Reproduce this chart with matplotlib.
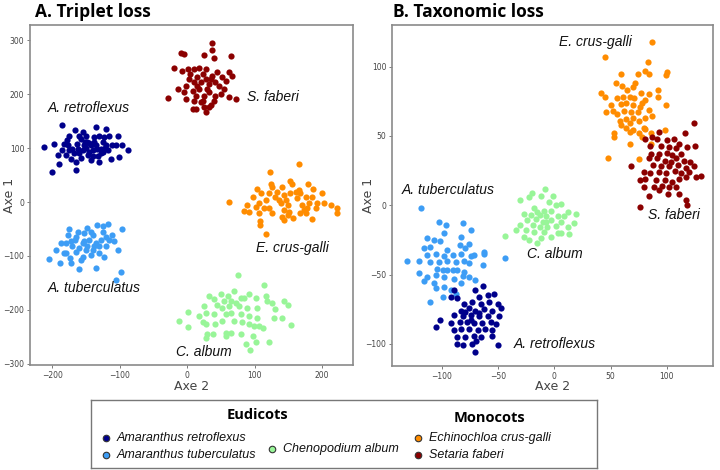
import matplotlib
matplotlib.use("Agg")
import matplotlib.pyplot as plt

# colours used in both panels
c_retro = "#00008b"
c_tuber = "#3d9df5"
c_album = "#98f598"
c_crus = "#ff8c00"
c_faberi = "#8b0000"

# ---------- A. Triplet loss ----------
a_retro_x = [-212, -197, -200, -185, -190, -180, -182, -175, -170, -167, -165, -165, -160, -158, -155, -153,
             -150, -145, -143, -138, -135, -133, -130, -128, -125, -120, -118, -116, -113, -111, -103, -101,
             -96, -88, -175, -185, -192, -177, -172, -163, -155, -148, -140, -128, -123, -130, -143, -160,
             -120, -106, -150, -145, -140, -135, -158, -168, -178, -125, -132, -147, -152, -138, -162, -122]
a_retro_y = [102, 108, 56, 142, 71, 87, 108, 123, 99, 133, 74, 59, 90, 117, 130, 105,
             123, 93, 77, 111, 139, 99, 123, 90, 111, 136, 96, 123, 80, 105, 123, 84,
             105, 96, 96, 96, 87, 105, 80, 108, 96, 111, 96, 99, 120, 74, 105, 123,
             105, 105, 100, 110, 85, 105, 82, 90, 115, 92, 85, 88, 112, 120, 99, 100]

a_faberi_x = [37, -9, -4, 37, 25, 40, 65, -19, -7, 1, 10, 18, 28, 45, 62, 67, -14, -2, 3, 10, 15, 20, 23,
              28, 32, 37, 42, 47, 52, 55, -4, 8, 13, 18, 25, 32, 42, 50, 62, 72, -29, 10, 13, 8, 25, 32,
              35, 28, -2, 23, 15, 5, 40, 57, 20, 30, 35]
a_faberi_y = [295, 277, 274, 282, 272, 266, 270, 249, 243, 246, 246, 249, 246, 240, 241, 234, 209, 215, 228,
              222, 231, 222, 237, 228, 219, 234, 222, 215, 231, 209, 203, 206, 197, 209, 197, 203, 197, 200,
              194, 191, 193, 188, 172, 172, 176, 176, 179, 166, 191, 188, 215, 237, 188, 225, 185, 209, 228]

a_crus_x = [62, 166, 123, 104, 97, 125, 126, 141, 153, 156, 180, 186, 200, 122, 109, 117, 107, 102, 89, 84,
            92, 107, 114, 121, 131, 136, 139, 144, 146, 149, 144, 141, 144, 149, 151, 157, 161, 163, 166,
            171, 173, 176, 178, 181, 185, 191, 193, 203, 214, 223, 223, 185, 108, 108, 168, 153, 134, 176,
            126, 168, 117]
a_crus_y = [0, 70, 56, 25, 10, 34, 28, 27, 39, 34, 34, 25, 16, 16, 16, 4, -2, -9, -5, -17,
            -18, -21, -12, -12, 10, 4, -2, 13, 4, -5, -15, -27, -33, -24, -18, -30, 19, 7, 22,
            -5, -15, -21, -12, -2, 10, -12, -2, -2, -5, -12, -21, -31, -36, -42, 16, 16, 19, 10,
            -21, -21, -60]

a_tuber_x = [-205, -194, -189, -182, -180, -177, -175, -174, -172, -170, -167, -165, -162, -160, -157, -155,
             -153, -150, -148, -145, -143, -140, -138, -135, -134, -130, -128, -125, -123, -120, -117, -116,
             -111, -106, -103, -98, -96, -125, -180, -187, -160, -153, -148, -135, -155, -140, -165, -172,
             -130, -120, -108, -143]
a_tuber_y = [-105, -88, -113, -95, -76, -61, -50, -104, -113, -82, -70, -92, -55, -125, -107, -76,
             -58, -88, -48, -70, -98, -61, -82, -122, -42, -95, -70, -55, -101, -82, -41, -70,
             -61, -144, -88, -130, -50, -45, -95, -76, -85, -73, -82, -76, -101, -88, -64, -73,
             -82, -64, -73, -55]

a_album_x = [76, 114, 69, 33, 50, 60, 80, 84, 92, 102, 117, 40, 55, 65, 72, 119, 25, 45, 52, 62, 77, 89,
             104, 126, 1, 18, 28, 40, 57, 65, 80, 92, 104, 129, -12, 1, 23, 28, 42, 52, 70, 82, 92, 99,
             107, 112, 30, 39, 57, 65, 80, 97, 28, 57, 87, 102, 93, 121, 154, 150, 143, 140, 130]
a_album_y = [-136, -153, -164, -174, -171, -174, -177, -177, -171, -177, -174, -180, -184, -184, -187, -184,
             -193, -190, -196, -193, -193, -196, -196, -187, -203, -211, -205, -208, -208, -205, -208, -211,
             -214, -214, -220, -231, -223, -226, -226, -220, -220, -223, -226, -230, -230, -233, -245, -245,
             -242, -242, -245, -248, -252, -248, -263, -260, -274, -260, -228, -190, -183, -215, -198]

# ---------- B. Taxonomic loss ----------
b_crus_x = [87, 45, 83, 81, 84, 100, 99, 59, 74, 55, 60, 70, 72, 92, 42, 45, 65, 77, 84, 56, 61, 67, 71,
            81, 92, 50, 59, 64, 70, 76, 78, 99, 46, 52, 56, 62, 68, 74, 84, 58, 64, 70, 75, 81, 87, 59,
            64, 67, 80, 98, 53, 67, 70, 75, 78, 81, 53, 67, 86, 48, 75, 86]
b_crus_y = [118, 107, 103, 97, 95, 96, 94, 95, 95, 88, 86, 85, 88, 83, 81, 78, 83, 81, 80, 77, 78, 78, 77,
            76, 78, 72, 73, 74, 72, 71, 74, 72, 67, 68, 66, 68, 67, 67, 69, 61, 62, 63, 61, 63, 64, 58,
            56, 59, 56, 54, 52, 53, 54, 52, 49, 55, 49, 44, 44, 34, 33, 52]

b_faberi_x = [124, 116, 93, 81, 87, 91, 100, 106, 111, 85, 95, 102, 108, 118, 125, 86, 93, 100, 105, 113,
              84, 91, 98, 104, 108, 115, 121, 68, 88, 95, 102, 110, 117, 124, 80, 85, 93, 99, 107, 113,
              120, 130, 76, 81, 90, 98, 105, 111, 117, 126, 80, 89, 96, 102, 108, 93, 101, 84, 111, 117,
              76, 118]
b_faberi_y = [59, 52, 53, 48, 49, 48, 47, 48, 44, 43, 43, 42, 41, 42, 43, 37, 37, 38, 36, 37,
              34, 34, 32, 31, 34, 32, 31, 28, 29, 28, 28, 29, 27, 28, 24, 23, 24, 23, 25, 23,
              24, 21, 18, 19, 18, 18, 17, 19, 20, 20, 13, 13, 14, 13, 13, 11, 8, 7, 8, 4,
              -1, 0]

b_tuber_x = [-118, -131, -44, -102, -81, -96, -98, -83, -74, -113, -107, -101, -76, -84, -116, -110,
             -95, -79, -62, -62, -113, -105, -98, -90, -83, -74, -71, -120, -110, -102, -95, -87, -80,
             -76, -63, -104, -99, -95, -90, -86, -80, -120, -113, -105, -98, -89, -81, -76, -116, -107,
             -98, -83, -105, -92, -99, -110, -87, -70]
b_tuber_y = [-2, -40, -38, -12, -13, -14, -20, -23, -18, -24, -25, -26, -28, -29, -31, -30,
             -32, -31, -34, -35, -36, -35, -37, -36, -35, -37, -36, -40, -41, -41, -40, -41, -40,
             -42, -43, -46, -47, -47, -47, -47, -48, -49, -52, -50, -52, -53, -51, -52, -55, -56,
             -59, -56, -60, -61, -66, -70, -64, -54]

b_retro_x = [-63, -89, -70, -92, -86, -67, -59, -53, -80, -73, -65, -58, -50, -47, -83, -76, -70, -62,
             -55, -89, -81, -74, -67, -59, -49, -101, -92, -84, -77, -71, -64, -56, -52, -105, -89, -83,
             -76, -68, -61, -55, -86, -79, -71, -65, -55, -81, -73, -69, -50, -70, -86, -74, -67, -79]
b_retro_y = [-58, -61, -61, -66, -67, -66, -65, -64, -71, -70, -71, -70, -71, -74, -76, -74, -76, -75,
             -76, -79, -80, -79, -80, -80, -80, -83, -85, -84, -84, -85, -85, -84, -86, -88, -90, -89,
             -89, -90, -89, -90, -95, -95, -94, -95, -94, -101, -100, -98, -101, -106, -100, -83, -78, -77]

b_album_x = [-22, -12, -1, -30, -5, 2, 6, -18, -9, -3, 12, 19, -27, -21, -13, -7, 3, 9, -24, -16, -10,
             -3, 6, 18, -30, -19, -13, -6, 2, 12, -44, -34, -25, -18, -9, 3, 13, -27, -22, -15, -12, -3,
             6, -7, -15, -8, -20]
b_album_y = [6, 7, 7, 4, 2, 0, 1, -2, -4, -4, -5, -6, -6, -7, -7, -8, -8, -8, -11, -10, -12,
             -11, -12, -13, -14, -14, -16, -16, -15, -16, -22, -18, -18, -19, -19, -20, -21, -23, -25, -27,
             -24, -23, -20, -12, -5, 12, 9]

species = ["Amaranthus retroflexus", "Amaranthus tuberculatus", "Chenopodium album",
           "Echinochloa crus-galli", "Setaria faberi"]

fig = plt.figure(figsize=(7.2, 4.7), dpi=100)
axA = fig.add_axes([30 / 720, 1 - 365 / 470, 323 / 720, 340 / 470])
axB = fig.add_axes([392 / 720, 1 - 366 / 470, 321 / 720, 341 / 470])

ms = 20
axA.scatter(a_retro_x, a_retro_y, s=ms, color=c_retro, lw=0)
axA.scatter(a_faberi_x, a_faberi_y, s=ms, color=c_faberi, lw=0)
axA.scatter(a_crus_x, a_crus_y, s=ms, color=c_crus, lw=0)
axA.scatter(a_tuber_x, a_tuber_y, s=ms, color=c_tuber, lw=0)
axA.scatter(a_album_x, a_album_y, s=ms, color=c_album, lw=0)

axB.scatter(b_crus_x, b_crus_y, s=ms, color=c_crus, lw=0)
axB.scatter(b_faberi_x, b_faberi_y, s=ms, color=c_faberi, lw=0)
axB.scatter(b_tuber_x, b_tuber_y, s=ms, color=c_tuber, lw=0)
axB.scatter(b_retro_x, b_retro_y, s=ms, color=c_retro, lw=0)
axB.scatter(b_album_x, b_album_y, s=ms, color=c_album, lw=0)

axA.set_xlim(-233, 246)
axA.set_ylim(-302, 328)
axA.set_xticks([-200, -100, 0, 100, 200])
axA.set_yticks([-300, -200, -100, 0, 100, 200, 300])
axB.set_xlim(-144, 141)
axB.set_ylim(-116, 130)
axB.set_xticks([-100, -50, 0, 50, 100])
axB.set_yticks([-100, -50, 0, 50, 100])

lab = dict(fontsize=10, style="italic", family="Liberation Sans", color="#111111", va="center")
axA.text(-207, 175, "A. retroflexus", **lab)
axA.text(89, 195, "S. faberi", **lab)
axA.text(102, -85, "E. crus-galli", **lab)
axA.text(-207, -160, "A. tuberculatus", **lab)
axA.text(-16, -277, "C. album", **lab)
axB.text(4, 118, "E. crus-galli", **lab)
axB.text(-135, 11, "A. tuberculatus", **lab)
axB.text(83, -7, "S. faberi", **lab)
axB.text(-24, -35, "C. album", **lab)
axB.text(-36, -100, "A. retroflexus", **lab)

for ax in (axA, axB):
    for sp in ax.spines.values():
        sp.set_color("#8a8a8a")
        sp.set_linewidth(1.2)
    ax.tick_params(labelsize=5.5, labelcolor="#444444", color="#666666", length=2, width=0.6, pad=2)
    ax.set_xlabel("Axe 2", fontsize=9, color="#444444")
    ax.set_ylabel("Axe 1", fontsize=9, color="#444444")

axA.yaxis.set_label_coords(-0.043, 0.5)
axA.xaxis.set_label_coords(0.5, -0.044)
axB.yaxis.set_label_coords(-0.053, 0.5)
axB.xaxis.set_label_coords(0.5, -0.041)

fig.text(35 / 720, 1 - 12 / 470, "A. Triplet loss", fontsize=12.5, fontweight="bold",
         family="Open Sans", va="center", ha="left")
fig.text(393 / 720, 1 - 12 / 470, "B. Taxonomic loss", fontsize=12.5, fontweight="bold",
         family="Open Sans", va="center", ha="left")

# legend box drawn on its own axes, in pixel units
lg = fig.add_axes([91 / 720, 1 - 468 / 470, 506 / 720, 68 / 470])
lg.set_xlim(0, 506)
lg.set_ylim(68, 0)
lg.set_xticks([])
lg.set_yticks([])
for sp in lg.spines.values():
    sp.set_color("#777777")
    sp.set_linewidth(1.0)

lg.text(166, 15, "Eudicots", fontsize=10.5, fontweight="bold", family="Open Sans", ha="center", va="center")
lg.text(398, 18, "Monocots", fontsize=10.5, fontweight="bold", family="Open Sans", ha="center", va="center")
leg_pos = [(15, 38), (15, 55), (181, 49), (327, 38), (327, 55)]
leg_col = [c_retro, c_tuber, c_album, c_crus, c_faberi]
for (px, py), col, name in zip(leg_pos, leg_col, species):
    lg.scatter([px], [py], s=22, color=col, edgecolor="#333333", linewidth=0.8)
    lg.text(px + 11, py, name, fontsize=9, style="italic", family="Liberation Sans",
            ha="left", va="center", color="#111111")

fig.savefig("out.png", dpi=100)
